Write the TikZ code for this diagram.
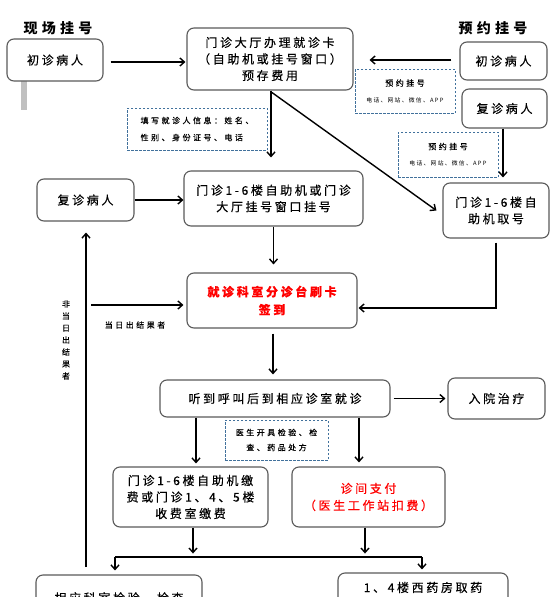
\documentclass[tikz,border=0pt]{standalone}
\usepackage{fontspec}
\setmainfont{Noto Sans CJK SC}
\newfontfamily\fmain[LetterSpace=22, FakeBold=0.4]{Noto Sans CJK SC}
\newfontfamily\fsmall[LetterSpace=31, FakeBold=0.3]{Noto Sans CJK SC}
\newfontfamily\ftiny[LetterSpace=22]{Noto Sans CJK SC}
\newfontfamily\ftitle[LetterSpace=30]{Noto Sans CJK SC}
\newfontfamily\fplain[FakeBold=0.3]{Noto Sans CJK SC}
\usetikzlibrary{arrows.meta,calc}
\definecolor{bordergray}{HTML}{5A5A5A}
\definecolor{dashblue}{HTML}{41719C}
\definecolor{redtxt}{HTML}{FF0000}
\definecolor{bargray}{HTML}{C0C0C0}
\begin{document}
\begin{tikzpicture}[x=1pt,y=-1pt,
  box/.style={draw=bordergray, line width=1.1pt, rounded corners=7pt, align=center, inner sep=0pt, fill=white,
    font=\fmain\fontsize{12}{16.5}\selectfont},
  boxtxt/.style={align=center, inner sep=0pt, font=\fmain\fontsize{12}{16.5}\selectfont},
  dbox/.style={draw=dashblue, dash pattern=on 2.5pt off 1.5pt, line width=0.7pt, align=center, inner sep=0pt, fill=white,
    font=\fsmall\fontsize{8}{16}\selectfont},
  arr/.style={-{Straight Barb[length=4.5pt,width=8pt]}, line width=1.4pt},
  conn/.style={line width=1.4pt},
  titletxt/.style={font=\ftitle\bfseries\fontsize{14}{16}\selectfont, inner sep=0pt},
  smalltxt/.style={font=\fsmall\fontsize{8}{12}\selectfont, inner sep=0pt, align=center}]
\useasboundingbox (0,0) rectangle (558,597);
\fill[white] (0,0) rectangle (558,597);
\clip (0,0) rectangle (558,597);

% titles
\node[titletxt] (t1) at (58,28) {现场挂号};
\node[titletxt] (t2) at (493,28) {预约挂号};

% gray bar
\fill[bargray] (21,81) rectangle (27,110);

% boxes
\node[box, minimum width=96pt, minimum height=42pt] (lnew) at (55,60) {初诊病人};
\node[box, minimum width=166pt, minimum height=62pt] (main) at (270,59) {门诊大厅办理就诊卡\\（自助机或挂号窗口）\\预存费用};
\node[box, minimum width=87pt, minimum height=38pt] (rnew) at (503.5,61) {初诊病人};
\node[box, minimum width=85pt, minimum height=39pt] (rret) at (504.5,108.5) {复诊病人};
\node[box, minimum width=106pt, minimum height=55pt] (take) at (496,210.5) {门诊1-6楼自\\助机取号};
\node[box, minimum width=179pt, minimum height=55pt] (reg) at (273.5,198.5) {门诊1-6楼自助机或门诊\\大厅挂号窗口挂号};
\node[box, minimum width=97pt, minimum height=42pt] (lret) at (85.5,200) {复诊病人};
\node[box, minimum width=170pt, minimum height=55pt, text=redtxt, font=\fmain\bfseries\fontsize{12}{18}\selectfont] (sign) at (272,300.5) {就诊科室分诊台刷卡\\签到};
\node[box, minimum width=230pt, minimum height=37pt] (call) at (275,398.5) {听到呼叫后到相应诊室就诊};
\node[box, minimum width=97pt, minimum height=41pt] (admit) at (496.5,398.5) {入院治疗};
\node[box, minimum width=155pt, minimum height=60pt] (pay) at (190.5,497) {门诊1-6楼自助机缴\\费或门诊1、4、5楼\\收费室缴费};
\node[box, minimum width=153pt, minimum height=60pt, text=redtxt, font=\fmain\fontsize{12}{17}\selectfont] (clinpay) at (368.5,497) {诊间支付\\（医生工作站扣费）};
\node[box, minimum width=166pt, minimum height=44pt] (exam) at (119,597) {};
\node[boxtxt, anchor=north] (examtxt) at (119,592) {相应科室检验、检查};
\node[box, minimum width=170pt, minimum height=44pt] (drug) at (423,595) {};
\node[boxtxt] (drugtxt) at (423,587.5) {1、4楼西药房取药};

% dashed notes
\node[dbox, minimum width=140pt, minimum height=42pt, align=left, font=\fsmall\fontsize{8}{17}\selectfont] (d1) at (197,129) {填写就诊人信息：姓名、\\性别、身份证号、电话};
\node[dbox, minimum width=100pt, minimum height=44pt] (d2) at (405,91) {预约挂号\\{\ftiny\fontsize{5.8}{8}\selectfont 电话、网站、微信、APP}};
\node[dbox, minimum width=100pt, minimum height=45pt] (d3) at (448,154.5) {预约挂号\\{\ftiny\fontsize{5.8}{8}\selectfont 电话、网站、微信、APP}};
\node[dbox, minimum width=103pt, minimum height=40pt, font=\fsmall\fontsize{8}{15}\selectfont] (d4) at (276.5,440) {医生开具检验、检\\查、药品处方};

% labels
\node[smalltxt] (lbl1) at (135,325) {当日出结果者};
\node[font=\fplain\fontsize{8}{12}\selectfont, align=center, inner sep=0pt] (lbl2) at (66,340) {非\\当\\日\\出\\结\\果\\者};

% connectors
\draw[arr] ($(lnew.east)+(7,2)$) -- ($(main.west)+(-1,3)$);
\draw[arr] ($(rnew.west)+(-8,-1)$) -- ($(main.east)+(16,1)$);
\draw[arr] ($(main.south)+(1,0)$) -- ($(reg.north)+(-2.5,-13)$);
\draw[arr] ($(main.south)+(2,2)$) -- ($(take.west)+(-6,0)$);
\draw[arr] ($(rret.south)+(-1.5,0)$) -- ($(take.north)+(7,-5)$);
\draw[arr] (lret.east) -- (lret.east -| reg.west);
\draw[arr] (reg.south) -- ($(sign.north)+(1.5,-8)$);
\draw[arr] ($(take.south)+(0,4)$) |- ($(sign.east)+(1,7.5)$);
\coordinate (lb) at (86,567);
\draw[arr] (lb) -- ($(lret.south)+(0.5,11)$);
\coordinate (lh) at (91,305);
\draw[arr] (lh) -- ($(lh -| sign.west)+(-3,0)$);
\draw[arr] ($(sign.south)+(1,5)$) -- ($(call.north)+(-2,-5)$);
\draw[arr] ($(call.east)+(3,0)$) -- ($(admit.west)+(-2,0)$);
\coordinate (payin) at ($(pay.north)+(5.5,-3)$);
\draw[arr] (call.south -| payin) -- (payin);
\coordinate (cpin) at ($(clinpay.north)+(-9.5,-4)$);
\draw[arr] (call.south -| cpin) -- (cpin);
\coordinate (busL) at (115,557);
\coordinate (busR) at (422,557);
\draw[arr] ($(pay.south)+(2.5,0)$) -- ($(pay.south)+(2.5,26)$);
\draw[arr] ($(clinpay.south)+(-3.5,0)$) -- ($(clinpay.south)+(-3.5,26)$);
\draw[conn] (busL) -- (busR);
\draw[arr] (busL) -- ($(busL |- exam.north)+(0,-4)$);
\draw[arr] (busR) -- ($(busR |- drug.north)+(0,-3)$);
\end{tikzpicture}
\end{document}
